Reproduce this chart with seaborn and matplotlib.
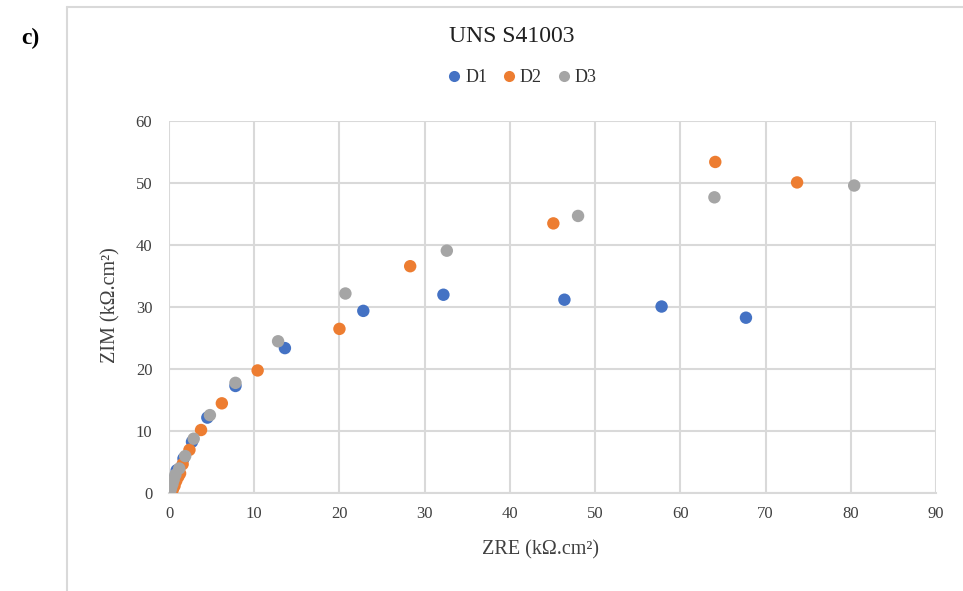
import matplotlib
matplotlib.use("Agg")
import matplotlib.pyplot as plt
from matplotlib.lines import Line2D
import seaborn as sns
import pandas as pd

# ---- data (kOhm.cm^2) ----
d1_x = [0.1, 0.2, 0.35, 0.5, 0.7, 0.9, 1.7, 2.7, 4.5, 7.8, 13.6, 22.8, 32.2, 46.4, 57.8, 67.7]
d1_y = [0.05, 0.3, 0.8, 1.5, 2.5, 3.7, 5.6, 8.3, 12.2, 17.3, 23.4, 29.4, 32.0, 31.2, 30.1, 28.3]
d2_x = [0.1, 0.25, 0.45, 0.65, 0.85, 1.1, 1.3, 1.6, 2.4, 3.76, 6.2, 10.4, 20.0, 28.3, 45.1, 64.1, 73.7]
d2_y = [0.02, 0.2, 0.6, 1.2, 2.0, 2.7, 3.2, 4.7, 7.0, 10.2, 14.5, 19.8, 26.5, 36.6, 43.5, 53.4, 50.1]
d3_x = [0.05, 0.15, 0.25, 0.4, 0.55, 0.75, 1.2, 1.9, 2.9, 4.8, 7.8, 12.8, 20.7, 32.6, 48.0, 64.0, 80.4]
d3_y = [0.05, 0.4, 0.9, 1.5, 2.2, 3.0, 4.0, 6.0, 8.8, 12.6, 17.8, 24.5, 32.2, 39.1, 44.7, 47.7, 49.6]
series_names = ["D1", "D2", "D3"]
x_ticks = [0, 10, 20, 30, 40, 50, 60, 70, 80, 90]
y_ticks = [0, 10, 20, 30, 40, 50, 60]

df = pd.concat([
    pd.DataFrame({"ZRE": d1_x, "ZIM": d1_y, "serie": "D1"}),
    pd.DataFrame({"ZRE": d2_x, "ZIM": d2_y, "serie": "D2"}),
    pd.DataFrame({"ZRE": d3_x, "ZIM": d3_y, "serie": "D3"}),
], ignore_index=True)

palette = {"D1": "#4472C4", "D2": "#ED7D31", "D3": "#A5A5A5"}

sns.set_theme(style="white")
plt.rcParams["font.family"] = ["Liberation Serif", "DejaVu Serif"]

W, H = 963, 591
fig = plt.figure(figsize=(W / 100, H / 100), dpi=100)
ax = fig.add_axes([169 / W, 1 - 493.3 / H, (936 - 169) / W, (493.3 - 121) / H])

sns.scatterplot(data=df, x="ZRE", y="ZIM", hue="serie", palette=palette,
                hue_order=series_names, s=80, linewidth=0, edgecolor="none",
                ax=ax, legend=False, zorder=3)

ax.set_xlim(0, 90)
ax.set_ylim(0, 60)
ax.set_xticks(x_ticks)
ax.set_yticks(y_ticks)
ax.grid(True, color="#d9d9d9", linewidth=1.5)
ax.set_axisbelow(True)
for side in ["top", "right", "left"]:
    ax.spines[side].set_visible(False)
ax.spines["bottom"].set_color("#d9d9d9")
ax.spines["bottom"].set_linewidth(1.5)
ax.tick_params(axis="both", length=0, labelsize=12, colors="#404040")
ax.tick_params(axis="x", pad=9)
ax.tick_params(axis="y", pad=12)
for lab in ax.get_xticklabels() + ax.get_yticklabels():
    lab.set_color("#404040")

ax.set_xlabel("ZRE (kΩ.cm²)", fontsize=14.5, color="#404040")
ax.set_ylabel("ZIM (kΩ.cm²)", fontsize=14.5, color="#404040")
ax.xaxis.set_label_coords((540 - 169) / (936 - 169), (493.3 - 540) / (493.3 - 121))
ax.yaxis.set_label_coords((120 - 169) / (936 - 169), (493.3 - 305) / (493.3 - 121))

# title
fig.text(512 / W, 1 - 37 / H, "UNS S41003", ha="center", va="center",
         fontsize=17, color="#202020")

# legend
handles = [Line2D([0], [0], marker="o", linestyle="none", markersize=8,
                  markerfacecolor=palette[n], markeredgecolor="none") for n in series_names]
fig.legend(handles, series_names, loc="center", bbox_to_anchor=(520 / W, 1 - 78 / H),
           ncol=3, frameon=False, fontsize=13, handletextpad=0.0,
           columnspacing=0.6, handlelength=1.2, labelcolor="#303030")

# outer chart frame (cropped)
fig.add_artist(Line2D([67 / W, 67 / W], [0, 1 - 7 / H], transform=fig.transFigure,
                      color="#d9d9d9", linewidth=1.5))
fig.add_artist(Line2D([67 / W, 1], [1 - 7 / H, 1 - 7 / H], transform=fig.transFigure,
                      color="#d9d9d9", linewidth=1.5))

# panel label
fig.text(30 / W, 1 - 38 / H, "c)", ha="center", va="center", fontsize=17,
         fontweight="bold", color="black")

fig.savefig("out.png", dpi=100, facecolor="white")
